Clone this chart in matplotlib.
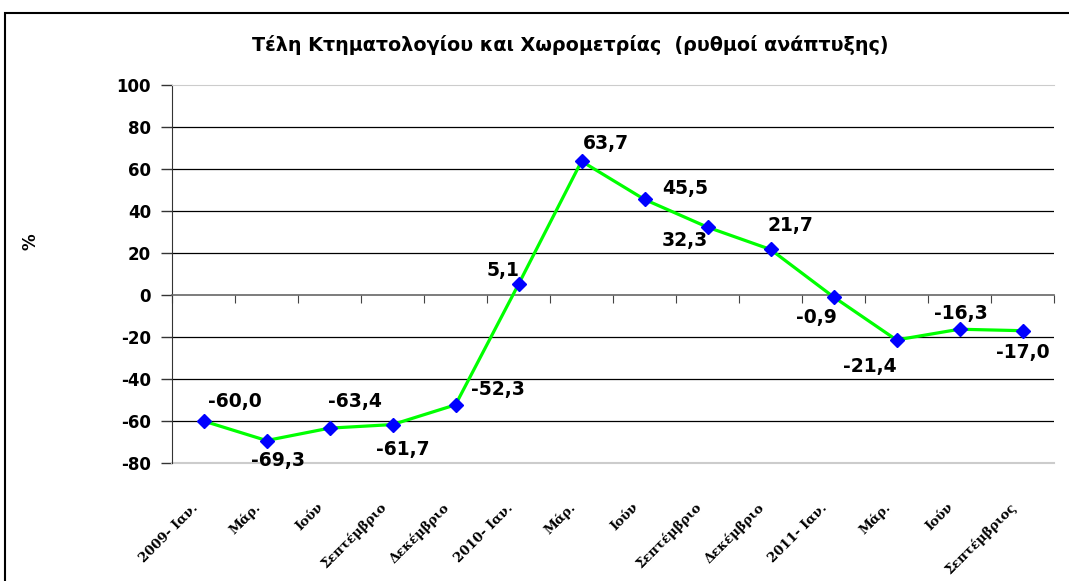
import numpy as np
import matplotlib
matplotlib.use("Agg")
import matplotlib.pyplot as plt
from matplotlib.patches import Rectangle
from matplotlib import transforms

# δεδομένα
labels = ["2009- Ιαν.", "Μάρ.", "Ιούν", "Σεπτέμβριο", "Δεκέμβριο",
          "2010- Ιαν.", "Μάρ.", "Ιούν", "Σεπτέμβριο", "Δεκέμβριο",
          "2011- Ιαν.", "Μάρ.", "Ιούν", "Σεπτέμβριος"]
values = [-60.0, -69.3, -63.4, -61.7, -52.3, 5.1, 63.7, 45.5, 32.3, 21.7,
          -0.9, -21.4, -16.3, -17.0]
yticks = [-80, -60, -40, -20, 0, 20, 40, 60, 80, 100]
title = "Τέλη Κτηματολογίου και Χωρομετρίας  (ρυθμοί ανάπτυξης)"

# θέσεις ετικετών (pixels)
offsets = [(31, 20), (12, -20), (25, 27), (10, -25), (42, 15), (-15, 14),
           (24, 18), (41, 11), (-23, -13), (20, 24), (-17, -21), (-27, -27),
           (1, 16), (0, -22)]

fig = plt.figure(figsize=(10.69, 5.81), dpi=100)
ax = fig.add_axes([172/1069, 1-463/581, (1054-172)/1069, (463-85)/581])

x = np.arange(len(values))
ax.plot(x, values, color="#00ff00", lw=2.3, zorder=3)
ax.plot(x, values, ls="none", marker="D", ms=7.5, color="#0000ff", zorder=4)

ax.set_xlim(-0.5, len(values) - 0.5)
ax.set_ylim(-80, 100)
ax.set_yticks(yticks)
ax.set_yticklabels([str(v) for v in yticks], fontsize=12, fontweight="bold",
                   family="DejaVu Sans")
ax.tick_params(axis="y", direction="out", length=8, width=1, pad=7, color="#333333")

for v in yticks[1:-1]:
    if v != 0:
        ax.axhline(v, color="black", lw=0.9, zorder=1)

ax.spines["right"].set_visible(False)
ax.spines["top"].set_color("#cccccc")
ax.spines["left"].set_color("#333333")
ax.spines["bottom"].set_position(("data", 0))
ax.spines["bottom"].set_color("#666666")
ax.spines["bottom"].set_linewidth(1.2)
ax.set_xticks(np.arange(len(values) + 1) - 0.5)
ax.set_xticklabels([])
ax.tick_params(axis="x", direction="out", length=6, color="#444444")
ax.axhline(-80, color="#cccccc", lw=1.5, clip_on=False)

trans = transforms.blended_transform_factory(ax.transData, ax.transAxes)
for i, lab in enumerate(labels):
    ax.text(i - 0.2, -0.1, lab, transform=trans, rotation=45, ha="right",
            va="top", fontsize=9.5, fontweight="bold", family="DejaVu Serif",
            rotation_mode="anchor")

for i, v in enumerate(values):
    ax.annotate(f"{v:.1f}".replace(".", ","), (i, v), xytext=offsets[i],
                textcoords="offset pixels", ha="center", va="center",
                fontsize=13.5, fontweight="bold", family="DejaVu Sans")

fig.text(31/1069, 1-242/581, "%", rotation=90, ha="center", va="center",
         fontsize=12, fontweight="bold")
fig.text(570/1069, 1-45/581, title, ha="center", va="center", fontsize=13.8,
         fontweight="bold")

fig.add_artist(Rectangle((5/1069, -0.1), 1.2, 1-13/581+0.1, transform=fig.transFigure,
                         fill=False, lw=1.5, edgecolor="black"))

fig.savefig("out.png", dpi=100)
